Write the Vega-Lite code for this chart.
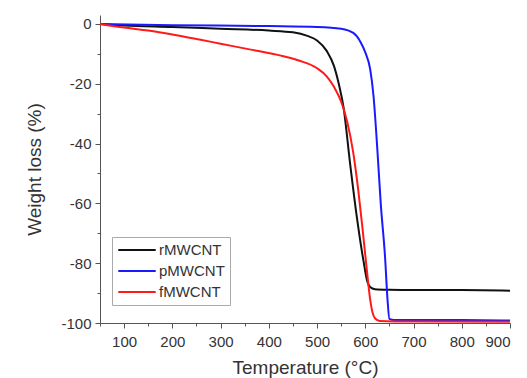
{
  "$schema": "https://vega.github.io/schema/vega-lite/v6.json",
  "width": 410,
  "height": 308,
  "autosize": {"type": "none"},
  "padding": {"left": 100, "top": 15, "right": 17, "bottom": 55},
  "background": "white",
  "config": {
    "view": {"stroke": null},
    "font": "Liberation Sans",
    "axis": {"grid": false, "domainColor": "#555", "tickColor": "#555", "labelColor": "#333", "titleColor": "#333", "labelFont": "Liberation Sans", "titleFont": "Liberation Sans", "titleFontWeight": "normal"}
  },
  "data": {
    "values": [
      {"T": 50, "W": 0, "s": "rMWCNT"},
      {"T": 100, "W": -0.5, "s": "rMWCNT"},
      {"T": 200, "W": -1.0, "s": "rMWCNT"},
      {"T": 300, "W": -1.6, "s": "rMWCNT"},
      {"T": 400, "W": -2.2, "s": "rMWCNT"},
      {"T": 450, "W": -2.8, "s": "rMWCNT"},
      {"T": 480, "W": -4, "s": "rMWCNT"},
      {"T": 500, "W": -5.5, "s": "rMWCNT"},
      {"T": 520, "W": -9, "s": "rMWCNT"},
      {"T": 535, "W": -14, "s": "rMWCNT"},
      {"T": 545, "W": -20, "s": "rMWCNT"},
      {"T": 555, "W": -28, "s": "rMWCNT"},
      {"T": 568, "W": -46, "s": "rMWCNT"},
      {"T": 582, "W": -64, "s": "rMWCNT"},
      {"T": 596, "W": -79, "s": "rMWCNT"},
      {"T": 604, "W": -86, "s": "rMWCNT"},
      {"T": 610, "W": -88, "s": "rMWCNT"},
      {"T": 620, "W": -88.7, "s": "rMWCNT"},
      {"T": 650, "W": -88.9, "s": "rMWCNT"},
      {"T": 700, "W": -89, "s": "rMWCNT"},
      {"T": 800, "W": -89, "s": "rMWCNT"},
      {"T": 900, "W": -89.2, "s": "rMWCNT"},
      {"T": 50, "W": 0, "s": "pMWCNT"},
      {"T": 200, "W": -0.4, "s": "pMWCNT"},
      {"T": 400, "W": -0.7, "s": "pMWCNT"},
      {"T": 500, "W": -1.0, "s": "pMWCNT"},
      {"T": 550, "W": -1.6, "s": "pMWCNT"},
      {"T": 575, "W": -3, "s": "pMWCNT"},
      {"T": 590, "W": -6, "s": "pMWCNT"},
      {"T": 600, "W": -9.5, "s": "pMWCNT"},
      {"T": 610, "W": -15, "s": "pMWCNT"},
      {"T": 617, "W": -24, "s": "pMWCNT"},
      {"T": 625, "W": -42, "s": "pMWCNT"},
      {"T": 632, "W": -60, "s": "pMWCNT"},
      {"T": 641, "W": -78, "s": "pMWCNT"},
      {"T": 646, "W": -92, "s": "pMWCNT"},
      {"T": 650, "W": -98.6, "s": "pMWCNT"},
      {"T": 660, "W": -99, "s": "pMWCNT"},
      {"T": 700, "W": -99, "s": "pMWCNT"},
      {"T": 800, "W": -99, "s": "pMWCNT"},
      {"T": 900, "W": -99.2, "s": "pMWCNT"},
      {"T": 50, "W": 0, "s": "fMWCNT"},
      {"T": 100, "W": -1.2, "s": "fMWCNT"},
      {"T": 150, "W": -2.2, "s": "fMWCNT"},
      {"T": 200, "W": -3.5, "s": "fMWCNT"},
      {"T": 256, "W": -5.2, "s": "fMWCNT"},
      {"T": 300, "W": -6.6, "s": "fMWCNT"},
      {"T": 360, "W": -8.5, "s": "fMWCNT"},
      {"T": 430, "W": -10.8, "s": "fMWCNT"},
      {"T": 464, "W": -12.3, "s": "fMWCNT"},
      {"T": 500, "W": -14.8, "s": "fMWCNT"},
      {"T": 520, "W": -17.5, "s": "fMWCNT"},
      {"T": 535, "W": -21, "s": "fMWCNT"},
      {"T": 550, "W": -26, "s": "fMWCNT"},
      {"T": 563, "W": -33, "s": "fMWCNT"},
      {"T": 575, "W": -43, "s": "fMWCNT"},
      {"T": 585, "W": -55, "s": "fMWCNT"},
      {"T": 594, "W": -68, "s": "fMWCNT"},
      {"T": 603, "W": -82, "s": "fMWCNT"},
      {"T": 610, "W": -92, "s": "fMWCNT"},
      {"T": 615, "W": -96.5, "s": "fMWCNT"},
      {"T": 620, "W": -98.4, "s": "fMWCNT"},
      {"T": 630, "W": -99.3, "s": "fMWCNT"},
      {"T": 700, "W": -99.5, "s": "fMWCNT"},
      {"T": 900, "W": -99.6, "s": "fMWCNT"}
    ]
  },
  "layer": [
    {
      "mark": {"type": "line", "interpolate": "monotone", "clip": true},
      "encoding": {
        "x": {"field": "T", "type": "quantitative", "scale": {"domain": [50, 900], "nice": false, "zero": false},
          "axis": {"values": [100, 200, 300, 400, 500, 600, 700, 800, 900], "title": "Temperature (°C)", "labelFontSize": 15, "titleFontSize": 19, "tickSize": 5, "labelPadding": 6, "titlePadding": 9, "orient": "bottom"}},
        "y": {"field": "W", "type": "quantitative", "scale": {"domain": [-100, 3], "nice": false, "zero": false},
          "axis": {"values": [0, -20, -40, -60, -80, -100], "labelExpr": "replace(datum.label, '\u2212', '-')", "title": "Weight loss (%)", "labelFontSize": 15, "titleFontSize": 19, "tickSize": 5, "labelPadding": 4, "titlePadding": 16, "orient": "left"}},
        "color": {"field": "s", "type": "nominal",
          "scale": {"domain": ["rMWCNT", "pMWCNT", "fMWCNT"], "range": ["#111111", "#1a1aff", "#ff1a1a"]},
          "legend": {"title": null, "orient": "none", "legendX": 12, "legendY": 222, "symbolType": "stroke", "symbolSize": 1400, "symbolStrokeWidth": 2.5, "clipHeight": 16, "labelFontSize": 15, "labelColor": "#333", "labelFont": "Liberation Sans", "strokeColor": "#aaa", "padding": 5, "rowPadding": 5, "labelOffset": 2, "fillColor": "white"}},
        "strokeWidth": {"field": "s", "type": "nominal", "scale": {"domain": ["rMWCNT", "pMWCNT", "fMWCNT"], "range": [2, 2, 1.5]}, "legend": null}
      }
    },
    {
      "mark": {"type": "line", "opacity": 0},
      "encoding": {
        "x": {"field": "T", "type": "quantitative",
          "axis": {"values": [50, 150, 250, 350, 450, 550, 650, 750, 850], "labels": false, "domain": false, "title": null, "tickSize": 3, "orient": "bottom"}},
        "y": {"field": "W", "type": "quantitative",
          "axis": {"values": [-10, -30, -50, -70, -90], "labels": false, "domain": false, "title": null, "tickSize": 3, "orient": "left"}},
        "detail": {"field": "s"}
      }
    }
  ],
  "resolve": {"axis": {"x": "independent", "y": "independent"}}
}
